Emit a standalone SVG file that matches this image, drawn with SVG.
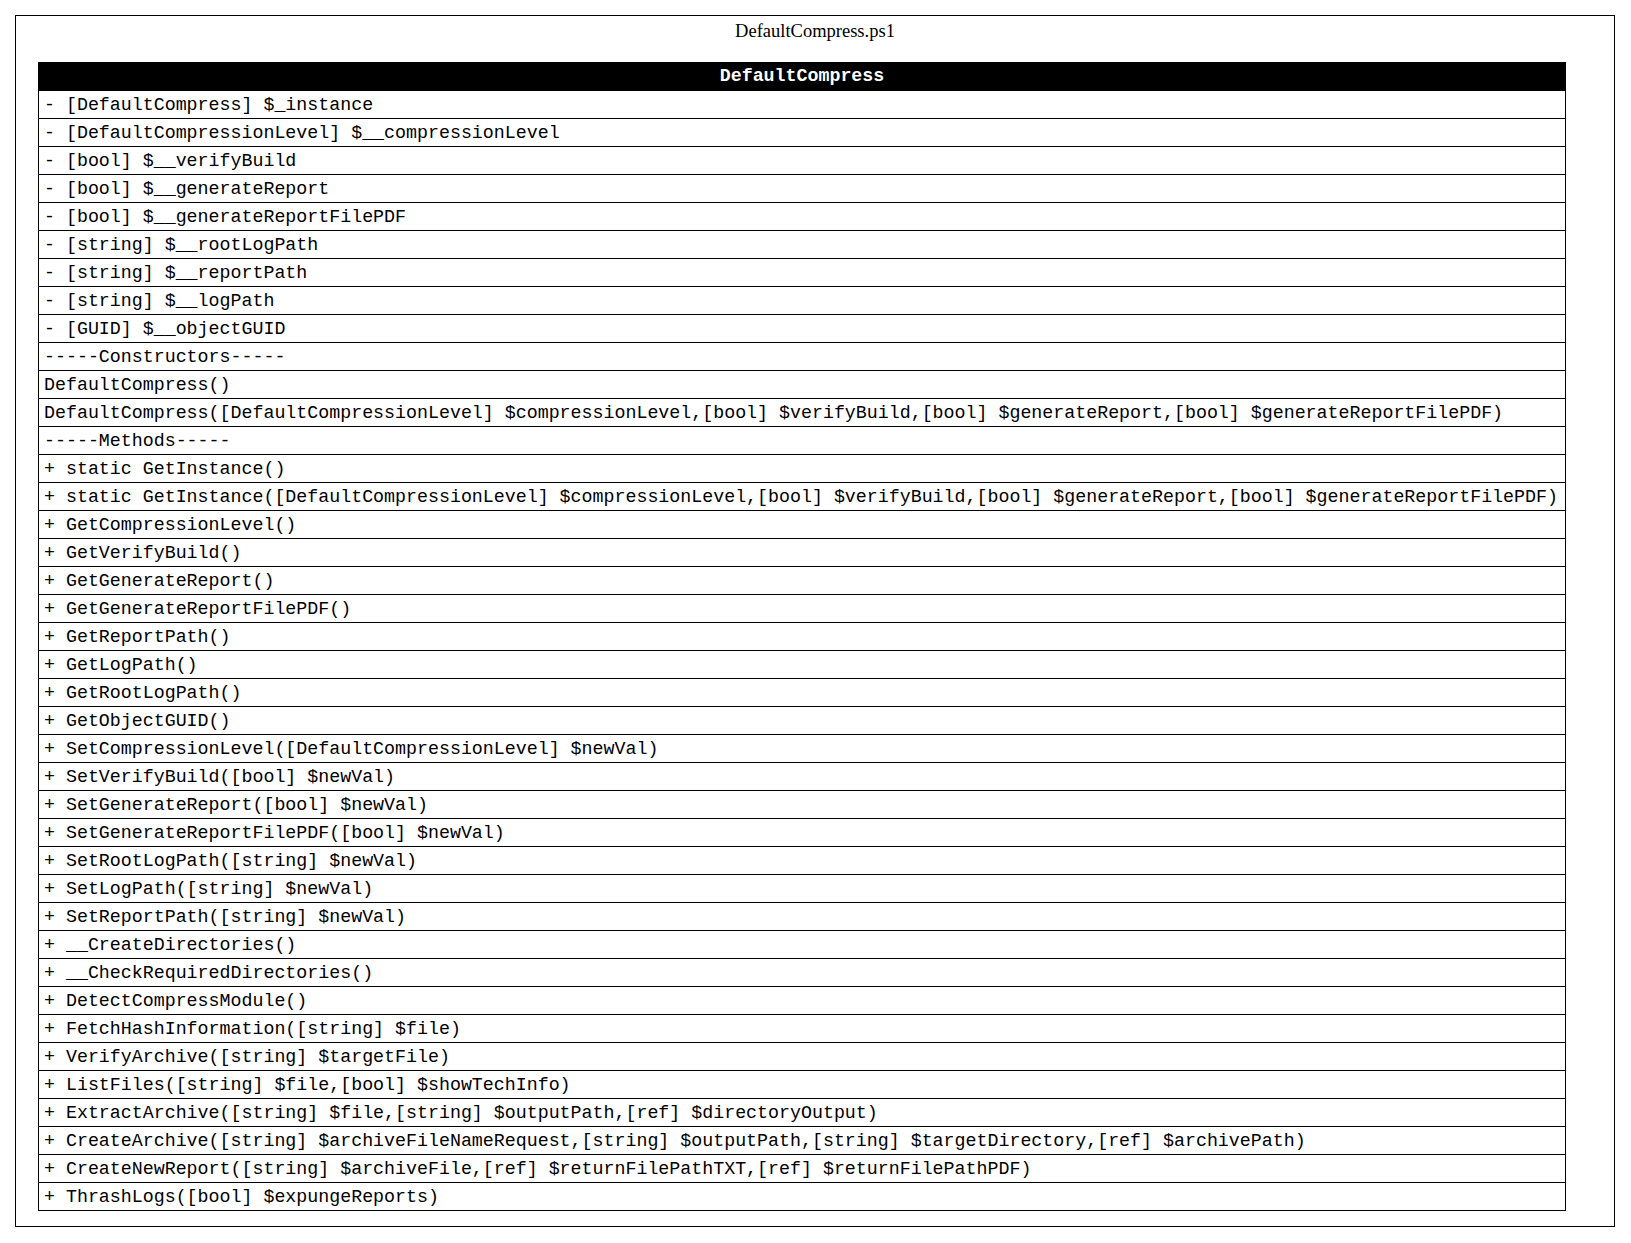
<svg xmlns="http://www.w3.org/2000/svg" width="1631" height="1243" viewBox="0 0 1631 1243">
<style>
.bg{fill:#ffffff}
.cluster{fill:none;stroke:#000000;stroke-width:1}
.title{font-family:"Liberation Serif","Times New Roman",serif;font-size:18.5px;fill:#000000;text-anchor:middle}
.hdr{fill:#000000;stroke:#000000;stroke-width:1}
.hdrtxt{font-family:"Liberation Mono","Courier New",monospace;font-size:18.3px;font-weight:bold;fill:#ffffff;text-anchor:middle}
.tbl{fill:none;stroke:#000000;stroke-width:1}
.row{font-family:"Liberation Mono","Courier New",monospace;font-size:18.3px;fill:#000000;white-space:pre}
</style>
<rect class="bg" x="0" y="0" width="1631" height="1243"/>
<g id="cluster_DefaultCompress_ps1">
<rect class="cluster" x="15.5" y="15.5" width="1599" height="1211"/>
<text class="title" x="815" y="36.5">DefaultCompress.ps1</text>
</g>
<g id="node_DefaultCompress">
<rect class="hdr" x="38.5" y="62.5" width="1527" height="28"/>
<text class="hdrtxt" x="802" y="81">DefaultCompress</text>
<rect class="tbl" x="38.5" y="62.5" width="1527" height="1148"/>
<g class="tbl">
<line x1="38.5" y1="90.5" x2="1565.5" y2="90.5"/>
<line x1="38.5" y1="118.5" x2="1565.5" y2="118.5"/>
<line x1="38.5" y1="146.5" x2="1565.5" y2="146.5"/>
<line x1="38.5" y1="174.5" x2="1565.5" y2="174.5"/>
<line x1="38.5" y1="202.5" x2="1565.5" y2="202.5"/>
<line x1="38.5" y1="230.5" x2="1565.5" y2="230.5"/>
<line x1="38.5" y1="258.5" x2="1565.5" y2="258.5"/>
<line x1="38.5" y1="286.5" x2="1565.5" y2="286.5"/>
<line x1="38.5" y1="314.5" x2="1565.5" y2="314.5"/>
<line x1="38.5" y1="342.5" x2="1565.5" y2="342.5"/>
<line x1="38.5" y1="370.5" x2="1565.5" y2="370.5"/>
<line x1="38.5" y1="398.5" x2="1565.5" y2="398.5"/>
<line x1="38.5" y1="426.5" x2="1565.5" y2="426.5"/>
<line x1="38.5" y1="454.5" x2="1565.5" y2="454.5"/>
<line x1="38.5" y1="482.5" x2="1565.5" y2="482.5"/>
<line x1="38.5" y1="510.5" x2="1565.5" y2="510.5"/>
<line x1="38.5" y1="538.5" x2="1565.5" y2="538.5"/>
<line x1="38.5" y1="566.5" x2="1565.5" y2="566.5"/>
<line x1="38.5" y1="594.5" x2="1565.5" y2="594.5"/>
<line x1="38.5" y1="622.5" x2="1565.5" y2="622.5"/>
<line x1="38.5" y1="650.5" x2="1565.5" y2="650.5"/>
<line x1="38.5" y1="678.5" x2="1565.5" y2="678.5"/>
<line x1="38.5" y1="706.5" x2="1565.5" y2="706.5"/>
<line x1="38.5" y1="734.5" x2="1565.5" y2="734.5"/>
<line x1="38.5" y1="762.5" x2="1565.5" y2="762.5"/>
<line x1="38.5" y1="790.5" x2="1565.5" y2="790.5"/>
<line x1="38.5" y1="818.5" x2="1565.5" y2="818.5"/>
<line x1="38.5" y1="846.5" x2="1565.5" y2="846.5"/>
<line x1="38.5" y1="874.5" x2="1565.5" y2="874.5"/>
<line x1="38.5" y1="902.5" x2="1565.5" y2="902.5"/>
<line x1="38.5" y1="930.5" x2="1565.5" y2="930.5"/>
<line x1="38.5" y1="958.5" x2="1565.5" y2="958.5"/>
<line x1="38.5" y1="986.5" x2="1565.5" y2="986.5"/>
<line x1="38.5" y1="1014.5" x2="1565.5" y2="1014.5"/>
<line x1="38.5" y1="1042.5" x2="1565.5" y2="1042.5"/>
<line x1="38.5" y1="1070.5" x2="1565.5" y2="1070.5"/>
<line x1="38.5" y1="1098.5" x2="1565.5" y2="1098.5"/>
<line x1="38.5" y1="1126.5" x2="1565.5" y2="1126.5"/>
<line x1="38.5" y1="1154.5" x2="1565.5" y2="1154.5"/>
<line x1="38.5" y1="1182.5" x2="1565.5" y2="1182.5"/>
</g>
<text class="row" x="44" y="110">- [DefaultCompress] $_instance</text>
<text class="row" x="44" y="138">- [DefaultCompressionLevel] $__compressionLevel</text>
<text class="row" x="44" y="166">- [bool] $__verifyBuild</text>
<text class="row" x="44" y="194">- [bool] $__generateReport</text>
<text class="row" x="44" y="222">- [bool] $__generateReportFilePDF</text>
<text class="row" x="44" y="250">- [string] $__rootLogPath</text>
<text class="row" x="44" y="278">- [string] $__reportPath</text>
<text class="row" x="44" y="306">- [string] $__logPath</text>
<text class="row" x="44" y="334">- [GUID] $__objectGUID</text>
<text class="row" x="44" y="362">-----Constructors-----</text>
<text class="row" x="44" y="390">DefaultCompress()</text>
<text class="row" x="44" y="418">DefaultCompress([DefaultCompressionLevel] $compressionLevel,[bool] $verifyBuild,[bool] $generateReport,[bool] $generateReportFilePDF)</text>
<text class="row" x="44" y="446">-----Methods-----</text>
<text class="row" x="44" y="474">+ static GetInstance()</text>
<text class="row" x="44" y="502">+ static GetInstance([DefaultCompressionLevel] $compressionLevel,[bool] $verifyBuild,[bool] $generateReport,[bool] $generateReportFilePDF)</text>
<text class="row" x="44" y="530">+ GetCompressionLevel()</text>
<text class="row" x="44" y="558">+ GetVerifyBuild()</text>
<text class="row" x="44" y="586">+ GetGenerateReport()</text>
<text class="row" x="44" y="614">+ GetGenerateReportFilePDF()</text>
<text class="row" x="44" y="642">+ GetReportPath()</text>
<text class="row" x="44" y="670">+ GetLogPath()</text>
<text class="row" x="44" y="698">+ GetRootLogPath()</text>
<text class="row" x="44" y="726">+ GetObjectGUID()</text>
<text class="row" x="44" y="754">+ SetCompressionLevel([DefaultCompressionLevel] $newVal)</text>
<text class="row" x="44" y="782">+ SetVerifyBuild([bool] $newVal)</text>
<text class="row" x="44" y="810">+ SetGenerateReport([bool] $newVal)</text>
<text class="row" x="44" y="838">+ SetGenerateReportFilePDF([bool] $newVal)</text>
<text class="row" x="44" y="866">+ SetRootLogPath([string] $newVal)</text>
<text class="row" x="44" y="894">+ SetLogPath([string] $newVal)</text>
<text class="row" x="44" y="922">+ SetReportPath([string] $newVal)</text>
<text class="row" x="44" y="950">+ __CreateDirectories()</text>
<text class="row" x="44" y="978">+ __CheckRequiredDirectories()</text>
<text class="row" x="44" y="1006">+ DetectCompressModule()</text>
<text class="row" x="44" y="1034">+ FetchHashInformation([string] $file)</text>
<text class="row" x="44" y="1062">+ VerifyArchive([string] $targetFile)</text>
<text class="row" x="44" y="1090">+ ListFiles([string] $file,[bool] $showTechInfo)</text>
<text class="row" x="44" y="1118">+ ExtractArchive([string] $file,[string] $outputPath,[ref] $directoryOutput)</text>
<text class="row" x="44" y="1146">+ CreateArchive([string] $archiveFileNameRequest,[string] $outputPath,[string] $targetDirectory,[ref] $archivePath)</text>
<text class="row" x="44" y="1174">+ CreateNewReport([string] $archiveFile,[ref] $returnFilePathTXT,[ref] $returnFilePathPDF)</text>
<text class="row" x="44" y="1202">+ ThrashLogs([bool] $expungeReports)</text>
</g>
<g id="connectors"></g>
</svg>
